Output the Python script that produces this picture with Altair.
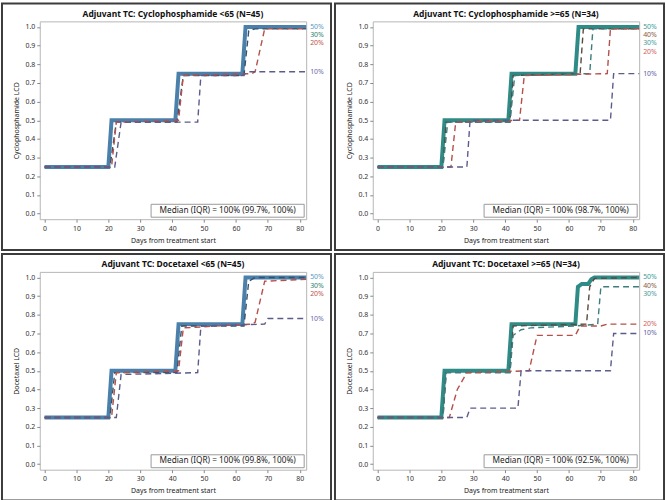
import altair as alt
import pandas as pd

# ---------------- data ----------------
titles = [
    "Adjuvant TC: Cyclophosphamide <65 (N=45)",
    "Adjuvant TC: Cyclophosphamide >=65 (N=34)",
    "Adjuvant TC: Docetaxel <65 (N=45)",
    "Adjuvant TC: Docetaxel >=65 (N=34)",
]
y_titles = ["Cyclophosphamide LCD", "Cyclophosphamide LCD", "Docetaxel LCD", "Docetaxel LCD"]
medians = [
    "Median (IQR) = 100% (99.7%, 100%)",
    "Median (IQR) = 100% (98.7%, 100%)",
    "Median (IQR) = 100% (99.8%, 100%)",
    "Median (IQR) = 100% (92.5%, 100%)",
]

# panel 1: Cyclophosphamide <65
p1_50_days = [0, 20, 21, 41, 42, 62, 63, 82]
p1_50_vals = [0.25, 0.25, 0.50, 0.50, 0.75, 0.75, 1.00, 1.00]
p1_30_days = [0, 20.5, 22.5, 41.5, 43.5, 62.5, 64, 66, 82]
p1_30_vals = [0.25, 0.25, 0.49, 0.49, 0.74, 0.74, 0.98, 0.99, 0.99]
p1_20_days = [0, 21, 22.5, 42, 43.5, 65, 66, 69, 82]
p1_20_vals = [0.25, 0.25, 0.49, 0.50, 0.74, 0.75, 0.76, 0.99, 0.99]
p1_10_days = [0, 22, 24, 48, 49, 62, 64, 82]
p1_10_vals = [0.25, 0.25, 0.49, 0.49, 0.74, 0.74, 0.76, 0.76]

# panel 2: Cyclophosphamide >=65
p2_50_days = [0, 20, 21, 41, 42, 62, 63, 82]
p2_50_vals = [0.25, 0.25, 0.50, 0.50, 0.75, 0.75, 1.00, 1.00]
p2_40_days = [0, 20.5, 21.5, 41.5, 42.5, 63.5, 64.5, 82]
p2_40_vals = [0.25, 0.25, 0.49, 0.49, 0.74, 0.75, 0.99, 0.99]
p2_30_days = [0, 20.5, 22, 41.5, 43, 66.5, 67.5, 82]
p2_30_vals = [0.25, 0.25, 0.49, 0.49, 0.74, 0.75, 0.99, 0.99]
p2_20_days = [0, 23, 24.5, 44.5, 46, 72, 73, 82]
p2_20_vals = [0.25, 0.25, 0.49, 0.50, 0.74, 0.75, 0.99, 0.99]
p2_10_days = [0, 28, 29, 73, 74, 82]
p2_10_vals = [0.25, 0.25, 0.50, 0.50, 0.75, 0.75]

# panel 3: Docetaxel <65
p3_50_days = [0, 20, 21, 41, 42, 62, 63, 82]
p3_50_vals = [0.25, 0.25, 0.50, 0.50, 0.75, 0.75, 1.00, 1.00]
p3_30_days = [0, 20.5, 22, 41.5, 43, 62.5, 64, 66, 82]
p3_30_vals = [0.25, 0.25, 0.49, 0.49, 0.74, 0.74, 0.98, 1.00, 1.00]
p3_20_days = [0, 21, 22.5, 42, 43.5, 65, 66, 69, 82]
p3_20_vals = [0.25, 0.25, 0.49, 0.50, 0.73, 0.75, 0.76, 0.98, 0.99]
p3_10_days = [0, 22.5, 24, 48, 49, 69, 70, 82]
p3_10_vals = [0.25, 0.25, 0.48, 0.49, 0.74, 0.75, 0.78, 0.78]

# panel 4: Docetaxel >=65
p4_50_days = [0, 20, 21, 41, 42, 62, 62.8, 64, 66, 67, 68, 82]
p4_50_vals = [0.25, 0.25, 0.50, 0.50, 0.75, 0.75, 0.95, 0.965, 0.965, 0.99, 1.00, 1.00]
p4_40_days = [0, 20.5, 21.5, 41.5, 42.5, 65.5, 66.5, 68, 82]
p4_40_vals = [0.25, 0.25, 0.49, 0.49, 0.74, 0.75, 0.95, 0.995, 1.00]
p4_30_days = [0, 20.5, 21.5, 41.5, 42.5, 45, 48, 62, 69, 70, 82]
p4_30_vals = [0.25, 0.25, 0.49, 0.49, 0.69, 0.72, 0.73, 0.74, 0.75, 0.95, 0.95]
p4_20_days = [0, 22.5, 25, 28, 47.5, 50, 62, 63.5, 70, 72, 82]
p4_20_vals = [0.25, 0.25, 0.40, 0.49, 0.50, 0.69, 0.69, 0.74, 0.74, 0.75, 0.75]
p4_10_days = [0, 28, 29, 44, 45, 73, 74, 82]
p4_10_vals = [0.25, 0.25, 0.30, 0.30, 0.50, 0.50, 0.70, 0.70]

panel_series = [
    [("50%", p1_50_days, p1_50_vals), ("30%", p1_30_days, p1_30_vals),
     ("20%", p1_20_days, p1_20_vals), ("10%", p1_10_days, p1_10_vals)],
    [("50%", p2_50_days, p2_50_vals), ("40%", p2_40_days, p2_40_vals),
     ("30%", p2_30_days, p2_30_vals), ("20%", p2_20_days, p2_20_vals),
     ("10%", p2_10_days, p2_10_vals)],
    [("50%", p3_50_days, p3_50_vals), ("30%", p3_30_days, p3_30_vals),
     ("20%", p3_20_days, p3_20_vals), ("10%", p3_10_days, p3_10_vals)],
    [("50%", p4_50_days, p4_50_vals), ("40%", p4_40_days, p4_40_vals),
     ("30%", p4_30_days, p4_30_vals), ("20%", p4_20_days, p4_20_vals),
     ("10%", p4_10_days, p4_10_vals)],
]

x_ticks = [0, 10, 20, 30, 40, 50, 60, 70, 80]
y_ticks = [0.0, 0.1, 0.2, 0.3, 0.4, 0.5, 0.6, 0.7, 0.8, 0.9, 1.0]

# ---------------- styles ----------------
FONT = "Noto Sans"
W, H = 268, 199
L, R, T, B = 39, 26, 19, 32

left_line = {"50%": "#4a80aa", "30%": "#35506a", "20%": "#b5504a", "10%": "#5c5c8c"}
left_label = {"50%": "#5a9ac4", "30%": "#2f7f6f", "20%": "#c0504d", "10%": "#6b6bab"}
right_line = {"50%": "#2e8b86", "40%": "#5a4a40", "30%": "#3d7d80", "20%": "#b5504a", "10%": "#5c5c8c"}
right_label = {"50%": "#3a9a9a", "40%": "#8b5a3c", "30%": "#4a9a9a", "20%": "#d06060", "10%": "#6060a8"}
palettes = [(left_line, left_label), (right_line, right_label),
            (left_line, left_label), (right_line, right_label)]

x_scale = alt.Scale(domain=[-1.5, 82], nice=False, zero=False)
y_scale = alt.Scale(domain=[-0.03, 1.03], nice=False, zero=False)


def make_panel(i):
    line_cols, label_cols = palettes[i]
    series = panel_series[i]
    x_axis = alt.Axis(values=x_ticks, title="Days from treatment start", grid=False,
                      domain=False, tickColor="#888", tickSize=3, labelFontSize=7,
                      labelColor="#333", titleFontSize=7, titleFontWeight="normal",
                      titleColor="#222", labelPadding=2, titlePadding=5,
                      labelFont=FONT, titleFont=FONT)
    y_axis = alt.Axis(values=y_ticks, format=".1f", title=y_titles[i], grid=False,
                      domain=False, tickColor="#888", tickSize=3, labelFontSize=7,
                      labelColor="#333", titleFontSize=7, titleFontWeight="normal",
                      titleColor="#222", labelPadding=2, titlePadding=6,
                      labelFont=FONT, titleFont=FONT)
    layers = []
    for name, days, vals in series:
        df = pd.DataFrame({"day": days, "value": vals})
        if name == "50%":
            mk = alt.Chart(df).mark_line(color=line_cols[name], strokeWidth=4,
                                         strokeJoin="miter")
        else:
            mk = alt.Chart(df).mark_line(color=line_cols[name], strokeWidth=1.4,
                                         strokeDash=[6, 4])
        layers.append(mk.encode(
            x=alt.X("day:Q", scale=x_scale, axis=x_axis),
            y=alt.Y("value:Q", scale=y_scale, axis=y_axis),
        ))

    # labels at right, dodged downward to avoid overlap
    finals = [(name, vals[-1]) for name, _, vals in series]
    pos = []
    prev = None
    for name, v in finals:
        y = v if prev is None else min(v, prev - 0.044)
        pos.append(y)
        prev = y
    lab_df = pd.DataFrame({
        "label": [n for n, _ in finals],
        "y": pos,
        "color": [label_cols[n] for n, _ in finals],
    })
    labels = alt.Chart(lab_df).mark_text(align="left", baseline="middle", dx=4,
                                         fontSize=7, font=FONT).encode(
        x=alt.value(W),
        y=alt.Y("y:Q", scale=y_scale, axis=y_axis),
        text="label:N",
        color=alt.Color("color:N", scale=None),
    )
    layers.append(labels)

    one = pd.DataFrame({"a": [0]})
    title = alt.Chart(one).mark_text(fontSize=8.5, fontWeight="bold", font=FONT,
                                     color="#111", baseline="alphabetic",
                                     align="center").encode(
        x=alt.value(W / 2), y=alt.value(-4.5), text=alt.value(titles[i]),
    )
    box = alt.Chart(one).mark_rect(fill="white", stroke="#999", strokeWidth=1).encode(
        x=alt.value(W - 156), x2=alt.value(W - 2),
        y=alt.value(H - 15), y2=alt.value(H - 2),
    )
    box_text = alt.Chart(one).mark_text(fontSize=8.3, font=FONT, color="#222",
                                        baseline="middle", align="center").encode(
        x=alt.value(W - 79), y=alt.value(H - 8.5), text=alt.value(medians[i]),
    )
    border = alt.Chart(one).mark_rect(fillOpacity=0, stroke="#3c3c3c", strokeWidth=2).encode(
        x=alt.value(-L + 1), x2=alt.value(W + R - 1),
        y=alt.value(-T + 1), y2=alt.value(H + B - 1),
    )
    layers += [title, box, box_text, border]

    return alt.layer(*layers).properties(width=W, height=H)


panels = [make_panel(i) for i in range(4)]
chart = alt.concat(*panels, columns=2, spacing=0).properties(
    padding=0, background="white"
).configure_view(stroke="#b5b5b5", strokeWidth=1)

chart.save("out.html", embed_options={"renderer": "svg", "actions": False})
